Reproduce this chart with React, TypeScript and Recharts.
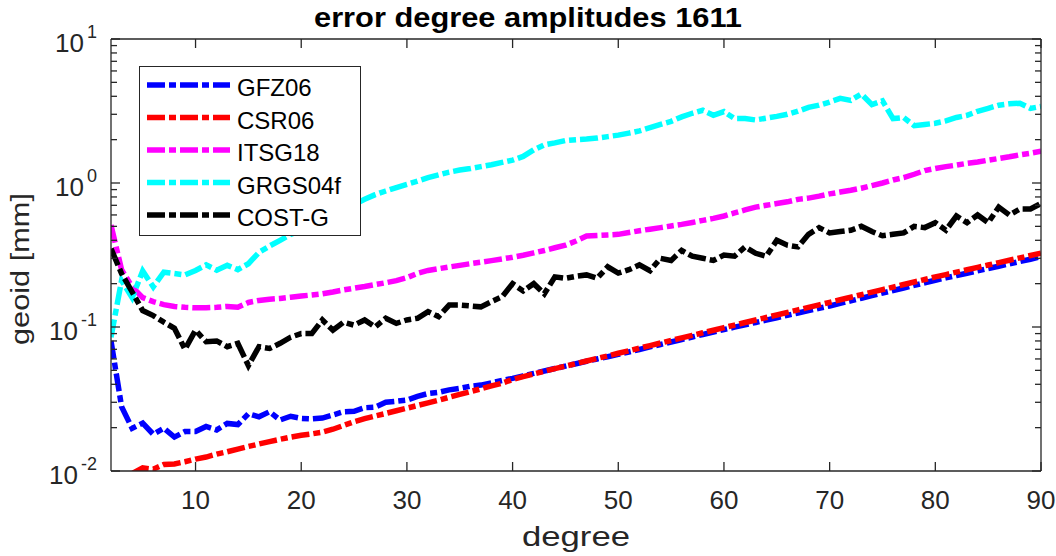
import { LineChart, Line, XAxis, YAxis, Legend } from "recharts";

const AXIS = "#262626";
const FONT = "'Liberation Sans', Arial, Helvetica, sans-serif";
const DASH = "18 4 7 4";
const LW = 5.5;

// spherical harmonic degree 2..90
const degrees = Array.from({ length: 89 }, (_, i) => i + 2);

const gfz06 = [
  0.080, 0.028, 0.0198, 0.0215, 0.018, 0.0198, 0.0172, 0.0188, 0.0188, 0.0204,
  0.0193, 0.0214, 0.021, 0.025, 0.0238, 0.0258, 0.0226, 0.024, 0.0232, 0.023,
  0.0233, 0.0245, 0.0258, 0.026, 0.0275, 0.0278, 0.030, 0.0305, 0.0311, 0.033,
  0.0345, 0.0352, 0.0366, 0.0375, 0.0388, 0.0395, 0.041, 0.0425, 0.044, 0.0458,
  0.0476, 0.0495, 0.0515, 0.0535, 0.0556, 0.0578, 0.060, 0.0622, 0.0645, 0.0671,
  0.0698, 0.0727, 0.0756, 0.0787, 0.0819, 0.0852, 0.0887, 0.0923, 0.096, 0.0997,
  0.1035, 0.1075, 0.1117, 0.116, 0.1205, 0.125, 0.130, 0.135, 0.140, 0.1459,
  0.152, 0.1584, 0.165, 0.172, 0.1792, 0.1867, 0.1946, 0.2028, 0.2113, 0.2193,
  0.2277, 0.2363, 0.2453, 0.2546, 0.2643, 0.2743, 0.2847, 0.2955, 0.308,
];

const csr06 = [
  null, null, 0.0096, 0.0105, 0.0103, 0.0111, 0.0112, 0.0116, 0.0121, 0.0125,
  0.0131, 0.0136, 0.0142, 0.0148, 0.0154, 0.016, 0.0166, 0.0172, 0.0177, 0.0181,
  0.0186, 0.0195, 0.0207, 0.022, 0.0231, 0.0241, 0.0251, 0.0262, 0.0273, 0.0285,
  0.0297, 0.031, 0.0325, 0.034, 0.0356, 0.0372, 0.039, 0.0407, 0.0432, 0.0452,
  0.0472, 0.0493, 0.0514, 0.0535, 0.0557, 0.0581, 0.0605, 0.063, 0.0657, 0.0684,
  0.0713, 0.0743, 0.0774, 0.0806, 0.084, 0.0875, 0.0912, 0.095, 0.099, 0.1031,
  0.1074, 0.1118, 0.1164, 0.1212, 0.1262, 0.1314, 0.1369, 0.1425, 0.1484, 0.1546,
  0.161, 0.1677, 0.1746, 0.1818, 0.1893, 0.1972, 0.2053, 0.2138, 0.2227, 0.2313,
  0.2403, 0.2496, 0.2593, 0.2694, 0.2798, 0.2907, 0.302, 0.3137, 0.326,
];

const itsg18 = [
  0.51, 0.25, 0.19, 0.16, 0.15, 0.143, 0.139, 0.137, 0.136, 0.136,
  0.137, 0.139, 0.137, 0.148, 0.153, 0.156, 0.158, 0.161, 0.164, 0.167,
  0.17, 0.175, 0.181, 0.186, 0.191, 0.197, 0.203, 0.21, 0.22, 0.236,
  0.247, 0.254, 0.261, 0.268, 0.275, 0.282, 0.289, 0.297, 0.305, 0.315,
  0.327, 0.34, 0.355, 0.37, 0.395, 0.428, 0.432, 0.436, 0.44, 0.453,
  0.466, 0.478, 0.49, 0.503, 0.516, 0.532, 0.55, 0.568, 0.59, 0.62,
  0.65, 0.68, 0.70, 0.72, 0.74, 0.77, 0.785, 0.81, 0.84, 0.865,
  0.89, 0.92, 0.96, 1.0, 1.05, 1.09, 1.15, 1.22, 1.26, 1.3,
  1.33, 1.37, 1.4, 1.44, 1.48, 1.52, 1.57, 1.61, 1.66,
];

const grgs04f = [
  0.085, 0.21, 0.16, 0.245, 0.19, 0.24, 0.235, 0.23, 0.247, 0.27,
  0.248, 0.268, 0.25, 0.275, 0.33, 0.365, 0.40, 0.44, 0.47, 0.51,
  0.56, 0.61, 0.66, 0.71, 0.77, 0.83, 0.88, 0.93, 0.98, 1.03,
  1.09, 1.14, 1.19, 1.23, 1.26, 1.30, 1.34, 1.39, 1.44, 1.53,
  1.70, 1.84, 1.90, 1.97, 2.0, 2.02, 2.05, 2.10, 2.15, 2.22,
  2.30, 2.42, 2.55, 2.68, 2.88, 3.05, 3.2, 2.95, 3.13, 2.8,
  2.8, 2.74, 2.82, 2.9, 3.0, 3.15, 3.35, 3.47, 3.65, 3.87,
  3.75, 4.15, 3.5, 3.72, 2.8, 2.85, 2.5, 2.55, 2.6, 2.7,
  2.85, 2.95, 3.15, 3.3, 3.47, 3.55, 3.58, 3.3, 3.4,
];

const costG = [
  0.35, 0.235, 0.175, 0.13, 0.12, 0.108, 0.098, 0.07, 0.095, 0.079,
  0.08, 0.073, 0.077, 0.054, 0.073, 0.071, 0.077, 0.085, 0.09, 0.09,
  0.112, 0.095, 0.108, 0.103, 0.112, 0.10, 0.115, 0.106, 0.112, 0.115,
  0.128, 0.118, 0.142, 0.142, 0.14, 0.138, 0.15, 0.162, 0.20, 0.178,
  0.20, 0.17, 0.223, 0.218, 0.225, 0.23, 0.218, 0.262, 0.237, 0.25,
  0.27, 0.246, 0.30, 0.29, 0.34, 0.31, 0.30, 0.29, 0.316, 0.31,
  0.36, 0.325, 0.31, 0.40, 0.37, 0.36, 0.44, 0.49, 0.45, 0.46,
  0.47, 0.50, 0.46, 0.43, 0.44, 0.45, 0.50, 0.49, 0.53, 0.47,
  0.59, 0.53, 0.60, 0.53, 0.68, 0.60, 0.66, 0.66, 0.72,
];

const series = [
  { key: "gfz06", name: "GFZ06", color: "#0000ff", values: gfz06 },
  { key: "csr06", name: "CSR06", color: "#ff0000", values: csr06 },
  { key: "itsg18", name: "ITSG18", color: "#ff00ff", values: itsg18 },
  { key: "grgs04f", name: "GRGS04f", color: "#00ffff", values: grgs04f },
  { key: "costG", name: "COST-G", color: "#000000", values: costG },
];

const xTicks = [10, 20, 30, 40, 50, 60, 70, 80, 90];
const yTicks = [
  0.01, 0.02, 0.03, 0.04, 0.05, 0.06, 0.07, 0.08, 0.09,
  0.1, 0.2, 0.3, 0.4, 0.5, 0.6, 0.7, 0.8, 0.9,
  1, 2, 3, 4, 5, 6, 7, 8, 9, 10,
];

const data = degrees.map((d, i) => {
  const row: Record<string, number | null> = { degree: d };
  series.forEach((s) => {
    row[s.key] = s.values[i];
  });
  return row;
});

function isMajor(v: number) {
  const l = Math.log10(v);
  return Math.abs(l - Math.round(l)) < 1e-6;
}

function BottomTick({ x, y, payload }: any) {
  return (
    <g>
      <line x1={x} x2={x} y1={y} y2={y - 9} stroke={AXIS} strokeWidth={1.3} />
      <text x={x} y={y + 38} textAnchor="middle" fontSize={26} fill={AXIS} fontFamily={FONT}>
        {payload.value}
      </text>
    </g>
  );
}

function TopTick({ x, y }: any) {
  return <line x1={x} x2={x} y1={y} y2={y + 9} stroke={AXIS} strokeWidth={1.3} />;
}

function LeftTick({ x, y, payload }: any) {
  const v = payload.value;
  const major = isMajor(v);
  return (
    <g>
      <line x1={x} x2={x + (major ? 9 : 6)} y1={y} y2={y} stroke={AXIS} strokeWidth={1.3} />
      {major && (
        <text x={x - 14} y={y + 12.7} textAnchor="end" fontSize={26} fill={AXIS} fontFamily={FONT}>
          10
          <tspan dx={3} dy={-13.4} fontSize={18}>
            {Math.round(Math.log10(v))}
          </tspan>
        </text>
      )}
    </g>
  );
}

function RightTick({ x, y, payload }: any) {
  const major = isMajor(payload.value);
  return <line x1={x} x2={x - (major ? 9 : 6)} y1={y} y2={y} stroke={AXIS} strokeWidth={1.3} />;
}

function LegendBox() {
  return (
    <svg width={222} height={170} style={{ display: "block" }}>
      <rect x={0.5} y={0.5} width={221} height={169} fill="#ffffff" stroke={AXIS} strokeWidth={1} />
      {series.map((s, i) => {
        const cy = 19 + i * 32.5;
        return (
          <g key={s.key}>
            <line x1={8} x2={91} y1={cy} y2={cy} stroke={s.color} strokeWidth={LW} strokeDasharray={DASH} />
            <text x={98} y={cy + 11} fontSize={24} fill="#000" fontFamily={FONT}>
              {s.name}
            </text>
          </g>
        );
      })}
    </svg>
  );
}

export default function App() {
  return (
    <div style={{ position: "relative", width: 1056, height: 556, background: "#fff" }}>
      <style>{"body{margin:0}"}</style>
      <LineChart width={1056} height={556} data={data} margin={{ top: 38, right: 14, bottom: 0, left: 0 }}>
        <XAxis
          dataKey="degree"
          type="number"
          domain={[2, 90]}
          ticks={xTicks}
          allowDataOverflow
          interval={0}
          height={85}
          tickSize={0}
          tickMargin={0}
          tick={<BottomTick />}
          axisLine={{ stroke: AXIS, strokeWidth: 1.3 }}
        />
        <XAxis
          xAxisId="top"
          orientation="top"
          dataKey="degree"
          type="number"
          domain={[2, 90]}
          ticks={xTicks}
          allowDataOverflow
          interval={0}
          height={1}
          tickSize={0}
          tickMargin={0}
          tick={<TopTick />}
          axisLine={{ stroke: AXIS, strokeWidth: 1.3 }}
        />
        <YAxis
          type="number"
          scale="log"
          domain={[0.01, 10]}
          ticks={yTicks}
          allowDataOverflow
          interval={0}
          width={111}
          tickSize={0}
          tickMargin={0}
          tick={<LeftTick />}
          axisLine={{ stroke: AXIS, strokeWidth: 1.3 }}
        />
        <YAxis
          yAxisId="right"
          orientation="right"
          type="number"
          scale="log"
          domain={[0.01, 10]}
          ticks={yTicks}
          allowDataOverflow
          interval={0}
          width={1}
          tickSize={0}
          tickMargin={0}
          tick={<RightTick />}
          axisLine={{ stroke: AXIS, strokeWidth: 1.3 }}
        />
        {series.map((s) => (
          <Line
            key={s.key}
            dataKey={s.key}
            name={s.name}
            type="linear"
            stroke={s.color}
            strokeWidth={LW}
            strokeDasharray={DASH}
            dot={false}
            activeDot={false}
            isAnimationActive={false}
          />
        ))}
        <Legend
          layout="vertical"
          align="center"
          verticalAlign="middle"
          content={() => <LegendBox />}
          wrapperStyle={{ position: "absolute", left: 139, top: 66, width: 222, height: 170 }}
        />
      </LineChart>
      <svg
        width={1056}
        height={556}
        style={{ position: "absolute", left: 0, top: 0, pointerEvents: "none" }}
      >
        <text
          x={528}
          y={27}
          textAnchor="middle"
          fontSize={27}
          fontWeight="bold"
          fill="#000"
          fontFamily={FONT}
          textLength={428}
          lengthAdjust="spacingAndGlyphs"
        >
          error degree amplitudes 1611
        </text>
        <text
          x={576}
          y={546}
          textAnchor="middle"
          fontSize={28}
          fill={AXIS}
          fontFamily={FONT}
          textLength={108}
          lengthAdjust="spacingAndGlyphs"
        >
          degree
        </text>
        <text
          transform="translate(29 269) rotate(-90)"
          textAnchor="middle"
          fontSize={26}
          fill={AXIS}
          fontFamily={FONT}
          textLength={152}
          lengthAdjust="spacingAndGlyphs"
        >
          geoid [mm]
        </text>
      </svg>
    </div>
  );
}
